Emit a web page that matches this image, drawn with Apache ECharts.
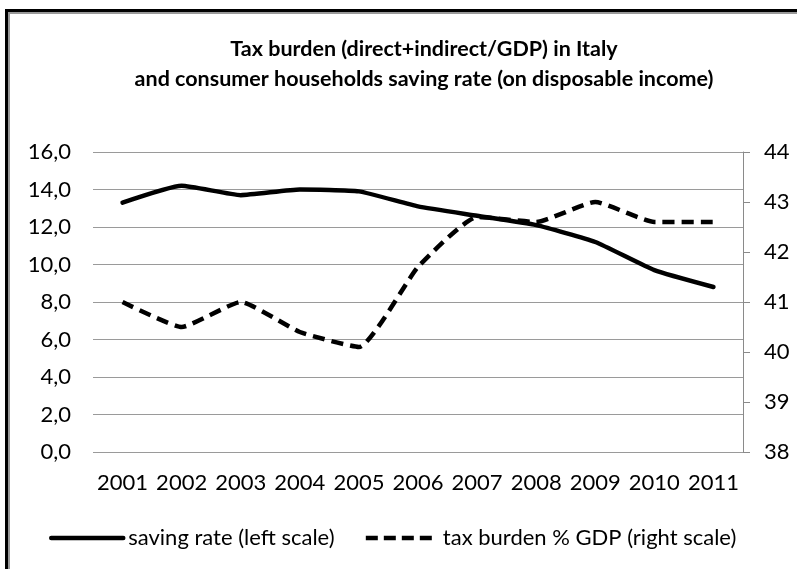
<!DOCTYPE html>
<html>
<head>
<meta charset="utf-8">
<script src="https://cdn.jsdelivr.net/npm/echarts@6/dist/echarts.min.js"></script>
<style>
html,body{margin:0;padding:0;background:#fff;}
#frame{position:absolute;left:5px;top:9px;width:800px;height:570px;border-top:3px solid #000;border-left:3px solid #000;box-shadow:inset 2px 2px 0 #999;}
#chart{position:absolute;left:0;top:0;width:797px;height:569px;}
</style>
</head>
<body>
<div id="frame"></div>
<div id="chart"></div>
<script>
const years = ['2001','2002','2003','2004','2005','2006','2007','2008','2009','2010','2011'];
const savingRate = [13.3, 14.2, 13.7, 14.0, 13.9, 13.1, 12.6, 12.1, 11.2, 9.7, 8.8];
const taxBurden = [41.0, 40.5, 41.0, 40.4, 40.1, 41.7, 42.7, 42.6, 43.0, 42.6, 42.6];
const leftTicks = {min: 0, max: 16, interval: 2};
const rightTicks = {min: 38, max: 44, interval: 1};
const titleText = 'Tax burden (direct+indirect/GDP) in Italy\nand consumer households saving rate (on disposable income)';
const seriesNames = ['saving rate (left scale)', 'tax burden % GDP (right scale)'];

const font = 'Lato';
const chart = echarts.init(document.getElementById('chart'), null, {renderer: 'canvas'});
chart.setOption({
  backgroundColor: 'transparent',
  animation: false,
  title: {
    text: titleText,
    left: 419,
    textAlign: 'center',
    top: 29,
    textStyle: {fontFamily: font, fontWeight: 'bold', fontSize: 21.5, color: '#000', lineHeight: 30}
  },
  legend: {
    top: 522,
    left: 44,
    itemWidth: 72,
    itemHeight: 14,
    itemGap: 29,
    itemStyle: {opacity: 0},
    textStyle: {fontFamily: font, fontSize: 22, color: '#000'},
    data: [
      {name: seriesNames[0], lineStyle: {width: 4.5, type: 'solid', color: '#000'}},
      {name: seriesNames[1], lineStyle: {width: 4.5, type: [12, 6], color: '#000'}}
    ]
  },
  grid: {left: 93, right: 54, top: 152, bottom: 117, containLabel: false},
  xAxis: {
    type: 'category',
    data: years,
    boundaryGap: true,
    axisLine: {show: false},
    axisTick: {show: false},
    axisLabel: {fontFamily: font, fontSize: 22, color: '#000', margin: 20, interval: 0}
  },
  yAxis: [
    {
      type: 'value',
      min: leftTicks.min, max: leftTicks.max, interval: leftTicks.interval,
      axisLine: {show: false},
      axisTick: {show: false},
      splitLine: {show: true, lineStyle: {color: '#9a9a9a', width: 1}},
      axisLabel: {fontFamily: font, fontSize: 22, color: '#000', margin: 22,
        formatter: v => v.toFixed(1).replace('.', ',')}
    },
    {
      type: 'value',
      position: 'right',
      min: rightTicks.min, max: rightTicks.max, interval: rightTicks.interval,
      axisLine: {show: true, lineStyle: {color: '#8a8a8a', width: 1}},
      axisTick: {show: true, inside: false, length: 7, lineStyle: {color: '#8a8a8a'}},
      splitLine: {show: false},
      axisLabel: {fontFamily: font, fontSize: 22, color: '#000', margin: 21}
    }
  ],
  series: [
    {
      name: seriesNames[0],
      type: 'line',
      yAxisIndex: 0,
      data: savingRate,
      symbol: 'none',
      smooth: 0.15,
      lineStyle: {color: '#000', width: 4.5, type: 'solid', cap: 'round'},
      itemStyle: {color: '#000'}
    },
    {
      name: seriesNames[1],
      type: 'line',
      yAxisIndex: 1,
      data: taxBurden,
      symbol: 'none',
      smooth: 0.15,
      lineStyle: {color: '#000', width: 4.5, type: [12, 7], cap: 'butt'},
      itemStyle: {color: '#000'}
    }
  ]
});
</script>
</body>
</html>
